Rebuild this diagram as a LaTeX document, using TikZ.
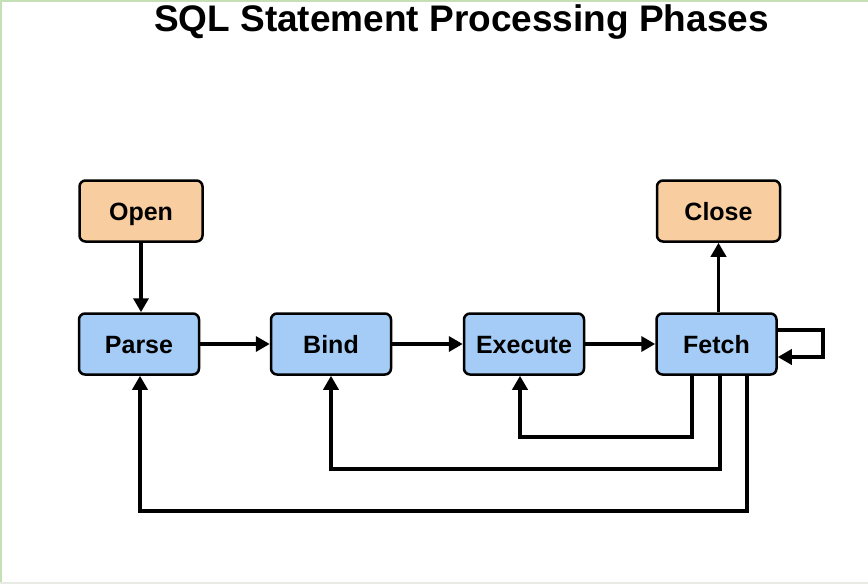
\documentclass[tikz,border=0pt]{standalone}
\usepackage{fontspec}
\setmainfont{Liberation Sans}
\usepackage{xcolor}
\usepackage{tikz}
\usetikzlibrary{arrows.meta}
\definecolor{phaseBlue}{RGB}{164, 204, 246}
\definecolor{phaseOrange}{RGB}{248, 206, 160}
\definecolor{frameGreen}{RGB}{197, 224, 180}
\definecolor{frameGray}{RGB}{232, 234, 228}

\begin{document}
\begin{tikzpicture}[
    x=1pt, y=-1pt,
    phaseBox/.style={draw, line width=2.5pt, rounded corners=6pt, fill=phaseBlue,
        minimum width=120pt, minimum height=61pt, text height=22pt, text depth=4pt,
        font=\fontsize{25}{29}\selectfont\bfseries},
    endBox/.style={phaseBox, fill=phaseOrange, minimum width=123pt},
    flow/.style={line width=3.6pt, -{Triangle[length=14pt,width=15pt]}}
]
\useasboundingbox (0,0) rectangle (868,584);
% frame edges
\draw[frameGreen, line width=2pt] (1,584) -- (1,1) -- (868,1);
\draw[frameGray, line width=2pt] (0,583) -- (868,583);

\node (title) at (461.5,22) {\fontsize{37}{42}\selectfont\bfseries SQL Statement Processing Phases};

\node[endBox] (open) at (141,211) {Open};
\node[endBox] (close) at (718.5,211) {Close};
\node[phaseBox] (parse) at (139,344) {Parse};
\node[phaseBox] (bind) at (331,344) {Bind};
\node[phaseBox] (execute) at (524,344) {Execute};
\node[phaseBox] (fetch) at (716.5,344) {Fetch};

\draw[flow] (open) -- (open |- parse.north);
\draw[flow] (parse) -- (bind);
\draw[flow] (bind) -- (execute);
\draw[flow] (execute) -- (fetch);
\draw[flow] (fetch.north -| close) -- (close);

% fetch again
\coordinate (loopA) at (823,330);
\coordinate (loopB) at (823,357);
\draw[flow] (fetch.east |- loopA) -- (loopA) -- (loopB) -- (fetch.east |- loopB);

% back to earlier phases
\coordinate (toExec) at (692,437);
\coordinate (toBind) at (720,469);
\coordinate (toParse) at (747,511);
\draw[flow] (fetch.south -| toExec) -- (toExec) -- (toExec -| 520,0) -- (execute.south -| 520,0);
\draw[flow] (fetch.south -| toBind) -- (toBind) -- (toBind -| bind) -- (bind.south);
\draw[flow] (fetch.south -| toParse) -- (toParse) -- (toParse -| 140,0) -- (parse.south -| 140,0);
\end{tikzpicture}
\end{document}
